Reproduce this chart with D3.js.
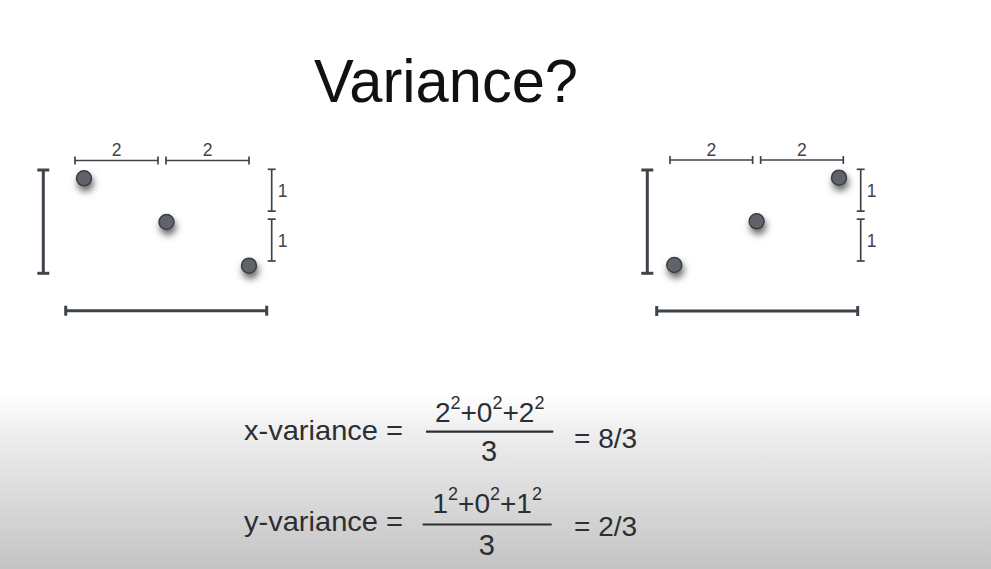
<!DOCTYPE html>
<html>
<head>
<meta charset="utf-8">
<script src="https://cdn.jsdelivr.net/npm/d3@7"></script>
<style>
  html, body { margin: 0; padding: 0; background: #fff; }
  svg { display: block; }
  text { font-family: "Liberation Sans", Arial, Helvetica, sans-serif; }
</style>
</head>
<body>
<svg id="chart" width="991" height="569"></svg>
<script>
// ---------------- data ----------------
const title = "Variance?";
const panelNames = ["left", "right"];
const leftPointsX = [0, 2, 4];
const leftPointsY = [2, 1, 0];
const rightPointsX = [0, 2, 4];
const rightPointsY = [0, 1, 2];
const xSegments = [[0, 2], [2, 4]];
const xSegmentLabels = ["2", "2"];
const ySegments = [[1, 2], [0, 1]];
const ySegmentLabels = ["1", "1"];
const xDomain = [0, 4];
const yDomain = [0, 2];
const formulaNames = ["x-variance =", "y-variance ="];
const formulaTerms = [["2", "0", "2"], ["1", "0", "1"]];
const formulaDenoms = ["3", "3"];
const formulaResults = ["= 8/3", "= 2/3"];

// ---------------- layout ----------------
const W = 991, H = 569;
const svg = d3.select("#chart");
const ink = "#3e444b";

const defs = svg.append("defs");
const grad = defs.append("linearGradient")
  .attr("id", "bg").attr("gradientUnits", "userSpaceOnUse")
  .attr("x1", 0).attr("y1", 0).attr("x2", 0).attr("y2", H);
grad.append("stop").attr("offset", 395 / H).attr("stop-color", "#ffffff");
grad.append("stop").attr("offset", 430 / H).attr("stop-color", "#efefef");
grad.append("stop").attr("offset", 1).attr("stop-color", "#c4c4c4");

const filt = defs.append("filter").attr("id", "shadow")
  .attr("x", "-150%").attr("y", "-150%").attr("width", "400%").attr("height", "400%");
filt.append("feDropShadow").attr("dx", 1.5).attr("dy", 5).attr("stdDeviation", 3.8)
  .attr("flood-color", "#000").attr("flood-opacity", 0.6);

svg.append("rect").attr("width", W).attr("height", H).attr("fill", "url(#bg)");

// title
svg.append("text").attr("x", 446).attr("y", 101.5)
  .attr("text-anchor", "middle").attr("font-size", 61)
  .attr("textLength", 264).attr("lengthAdjust", "spacingAndGlyphs")
  .attr("fill", "#111").text(title);

const panels = [
  { xs: leftPointsX, ys: leftPointsY, xr: [84, 249], yr: [265.7, 178.3],
    topR: [75, 249], topY: 160.5, sideX: 271.7, sideR: [261, 169.3],
    spanX: 43.3, spanR: [273.3, 170], baseR: [65.7, 266.7], baseY: 310.7 },
  { xs: rightPointsX, ys: rightPointsY, xr: [674.3, 839], yr: [265, 177.7],
    topR: [670, 843.3], topY: 160, sideX: 860.7, sideR: [261, 169.3],
    spanX: 647.3, spanR: [273.3, 170], baseR: [656.7, 857.7], baseY: 311 }
];

function hBracket(g, x1, x2, y, cap, sw) {
  g.append("line").attr("x1", x1).attr("x2", x2).attr("y1", y).attr("y2", y)
    .attr("stroke", ink).attr("stroke-width", sw);
  [x1, x2].forEach(x => g.append("line").attr("x1", x).attr("x2", x)
    .attr("y1", y - cap).attr("y2", y + cap).attr("stroke", ink).attr("stroke-width", sw));
}
function vBracket(g, x, y1, y2, cap, sw) {
  g.append("line").attr("x1", x).attr("x2", x).attr("y1", y1).attr("y2", y2)
    .attr("stroke", ink).attr("stroke-width", sw);
  [y1, y2].forEach(y => g.append("line").attr("x1", x - cap).attr("x2", x + cap)
    .attr("y1", y).attr("y2", y).attr("stroke", ink).attr("stroke-width", sw));
}

const gap = 8;
panels.forEach((p, pi) => {
  const g = svg.append("g").attr("class", "panel-" + panelNames[pi]);
  const x = d3.scaleLinear().domain(xDomain).range(p.xr);
  const y = d3.scaleLinear().domain(yDomain).range(p.yr);
  const xt = d3.scaleLinear().domain(xDomain).range(p.topR);
  const ys = d3.scaleLinear().domain(yDomain).range(p.sideR);
  const xb = d3.scaleLinear().domain(xDomain).range(p.baseR);
  const yb = d3.scaleLinear().domain(yDomain).range(p.spanR);

  // top segment brackets
  xSegments.forEach((s, i) => {
    const a = xt(s[0]) + (s[0] > xDomain[0] ? gap / 2 : 0);
    const b = xt(s[1]) - (s[1] < xDomain[1] ? gap / 2 : 0);
    hBracket(g, a, b, p.topY, 4, 1.7);
    g.append("text").attr("x", (a + b) / 2).attr("y", p.topY - 4.5)
      .attr("text-anchor", "middle").attr("font-size", 17.5).attr("fill", ink)
      .text(xSegmentLabels[i]);
  });
  // side segment brackets
  ySegments.forEach((s, i) => {
    const a = ys(s[1]) + (s[1] < yDomain[1] ? gap / 2 : 0);
    const b = ys(s[0]) - (s[0] > yDomain[0] ? gap / 2 : 0);
    vBracket(g, p.sideX, a, b, 4, 1.7);
    g.append("text").attr("x", p.sideX + 6).attr("y", (a + b) / 2 + 6.5)
      .attr("font-size", 17.5).attr("fill", ink).text(ySegmentLabels[i]);
  });
  // full y span
  vBracket(g, p.spanX, yb(yDomain[1]), yb(yDomain[0]), 6, 3);
  // full x span
  hBracket(g, xb(xDomain[0]), xb(xDomain[1]), p.baseY, 5, 3);

  // points
  g.selectAll("circle").data(p.xs.map((v, i) => [v, p.ys[i]])).join("circle")
    .attr("cx", d => x(d[0])).attr("cy", d => y(d[1])).attr("r", 7.5)
    .attr("fill", "#60636a").attr("stroke", "#3a3d42").attr("stroke-width", 1.5)
    .attr("filter", "url(#shadow)");
});

// formulas
const fRows = [
  { nameY: 440, numY: 421.5, lineY: 431.7, denY: 460.5, resY: 447.5, lx: [426, 553.3] },
  { nameY: 530.5, numY: 513, lineY: 524.5, denY: 554.5, resY: 535.5, lx: [422.7, 551.7] }
];
const fsz = 28, ssz = 18;
fRows.forEach((r, i) => {
  const g = svg.append("g").attr("fill", "#2b2e33");
  g.append("text").attr("x", 244).attr("y", r.nameY).attr("font-size", fsz)
    .attr("textLength", 159).attr("lengthAdjust", "spacingAndGlyphs")
    .text(formulaNames[i]);
  const cx = (r.lx[0] + r.lx[1]) / 2;
  const num = g.append("text").attr("x", cx).attr("y", r.numY)
    .attr("text-anchor", "middle").attr("font-size", fsz);
  formulaTerms[i].forEach((t, k) => {
    if (k > 0) num.append("tspan").attr("dy", 13).text("+");
    num.append("tspan").text(t);
    num.append("tspan").attr("font-size", ssz).attr("dy", -13).text("2");
  });
  g.append("line").attr("x1", r.lx[0]).attr("x2", r.lx[1])
    .attr("y1", r.lineY).attr("y2", r.lineY).attr("stroke", "#2b2e33").attr("stroke-width", 2.2);
  g.append("text").attr("x", cx - 0.5).attr("y", r.denY).attr("text-anchor", "middle")
    .attr("font-size", fsz + 1).text(formulaDenoms[i]);
  g.append("text").attr("x", 574).attr("y", r.resY).attr("font-size", fsz)
    .text(formulaResults[i]);
});
</script>
</body>
</html>
